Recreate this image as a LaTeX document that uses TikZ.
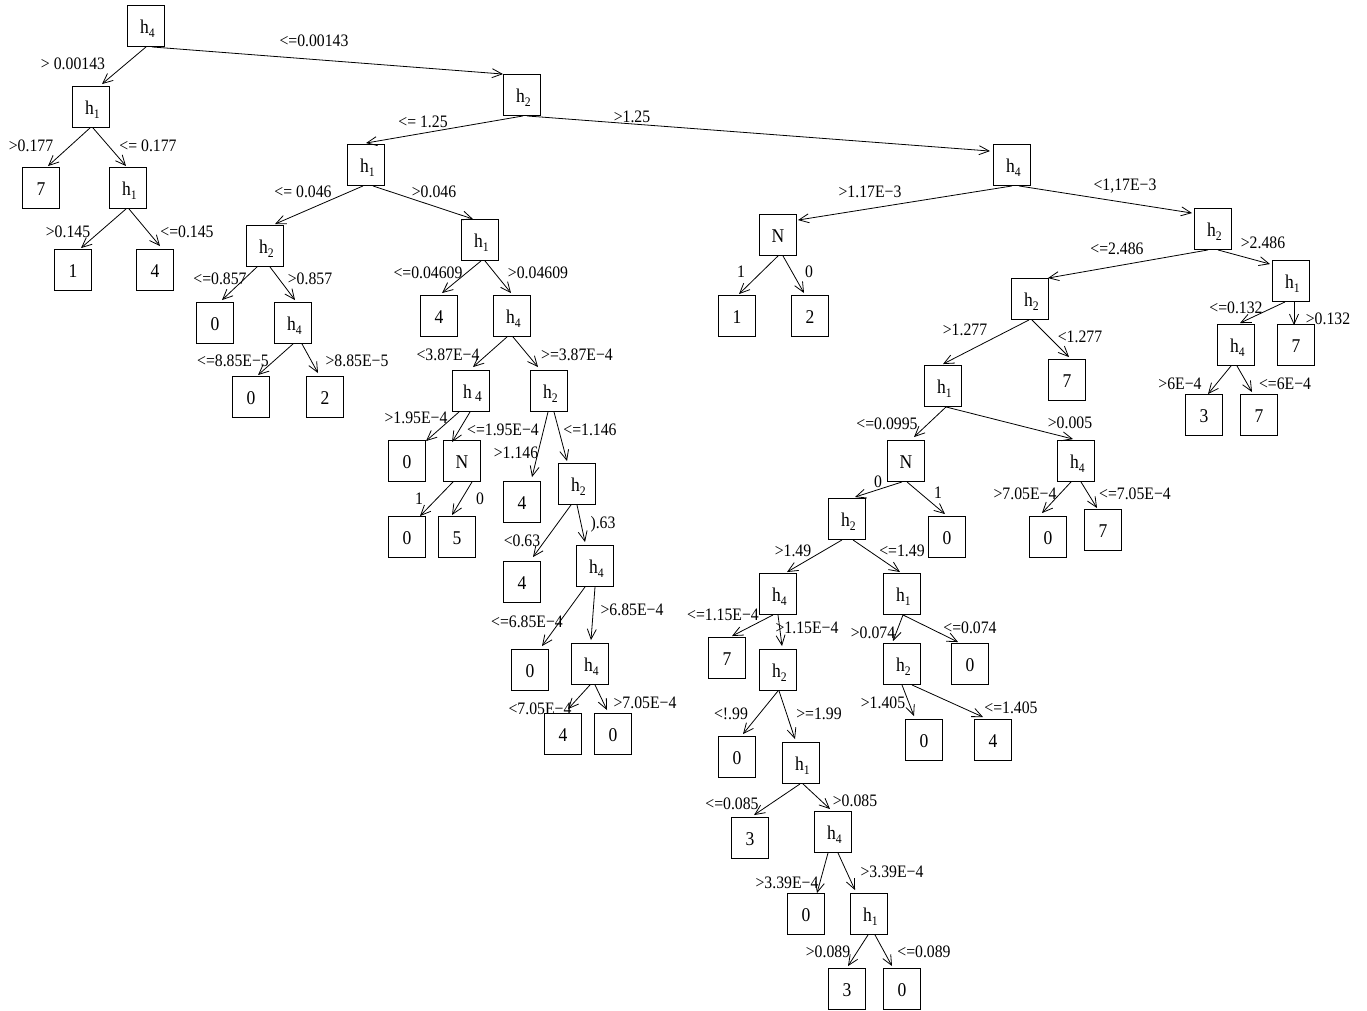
\documentclass[tikz,border=0pt]{standalone}
\usepackage{fontspec}
\setmainfont{Liberation Serif}[FakeStretch=0.9]
\usetikzlibrary{arrows.meta}

% box text: h with a lowered index
\newcommand{\hsub}[1]{\hspace{3pt}h\raisebox{-0.25em}{\fontsize{13}{13}\selectfont #1}}
% branch from a parent box to a child box (start shift, end shifts)
\newcommand{\branch}[5]{\draw[arr] ([xshift=#2pt]#1.south) -- ([xshift=#4pt,yshift=#5pt]#3.north);}

\tikzset{
  box/.style={draw, line width=0.9pt, minimum width=37pt, minimum height=41pt,
    inner sep=0pt, text height=14pt, text depth=0pt,
    font=\fontsize{19.5}{20}\selectfont},
  lbl/.style={inner sep=0pt, text height=12pt, text depth=0pt,
    font=\fontsize{17.5}{18}\selectfont},
  arr/.style={line width=0.8pt, -{Straight Barb[length=10pt,width=9pt,line width=0.8pt]}}
}

\begin{document}
\begin{tikzpicture}[x=1pt,y=-1pt]
\useasboundingbox (0,0) rectangle (1367,1010);

% ---- decision boxes and leaves ----
\node[box] (r)   at (146,26)  {\hsub{4}};
\node[box] (a)   at (91,107)  {\hsub{1}};
\node[box] (a7)  at (41,188)  {7};
\node[box] (b)   at (128,188) {\hsub{1}};
\node[box] (b1)  at (73,270)  {1};
\node[box] (b4)  at (155,270) {4};
\node[box] (c)   at (522,95)  {\hsub{2}};
\node[box] (d)   at (366,165) {\hsub{1}};
\node[box] (e)   at (265,246) {\hsub{2}};
\node[box] (e0)  at (215,323) {0};
\node[box] (f)   at (293,323) {\hsub{4}};
\node[box] (f0)  at (251,397) {0};
\node[box] (f2)  at (325,397) {2};
\node[box] (g)   at (480,240) {\hsub{1}};
\node[box] (g4)  at (439,316) {4};
\node[box] (hh)  at (512,316) {\hsub{4}};
\node[box] (i)   at (471,391) {\hspace{3pt}h\,\raisebox{-0.2em}{\fontsize{15}{15}\selectfont 4}};
\node[box] (j)   at (549,391) {\hsub{2}};
\node[box] (i0)  at (407,461) {0};
\node[box] (k)   at (462,461) {N};
\node[box] (k0)  at (407,537) {0};
\node[box] (k5)  at (457,537) {5};
\node[box] (j4)  at (522,502) {4};
\node[box] (l)   at (577,484) {\hsub{2}};
\node[box] (l4)  at (522,582) {4};
\node[box] (m)   at (595,566) {\hsub{4}};
\node[box] (m0)  at (530,670) {0};
\node[box] (o)   at (590,664) {\hsub{4}};
\node[box] (o4)  at (563,734) {4};
\node[box] (o0)  at (613,734) {0};
\node[box] (p)   at (1012,165) {\hsub{4}};
\node[box] (q)   at (778,235) {N};
\node[box] (q1)  at (737,316) {1};
\node[box] (q2)  at (810,316) {2};
\node[box] (s)   at (1213,229) {\hsub{2}};
\node[box] (t)   at (1030,299) {\hsub{2}};
\node[box] (u)   at (1291,281) {\hsub{1}};
\node[box] (v)   at (1236,345) {\hsub{4}};
\node[box] (u7)  at (1296,345) {7};
\node[box] (v3)  at (1204,415) {3};
\node[box] (v7)  at (1259,415) {7};
\node[box] (t7)  at (1067,380) {7};
\node[box] (w)   at (943,386) {\hsub{1}};
\node[box] (x)   at (906,461) {N};
\node[box] (y)   at (1076,461) {\hsub{4}};
\node[box] (z)   at (847,519) {\hsub{2}};
\node[box] (x0)  at (947,537) {0};
\node[box] (y0)  at (1048,537) {0};
\node[box] (y7)  at (1103,530) {7};
\node[box] (z1)  at (778,594) {\hsub{4}};
\node[box] (z2)  at (902,594) {\hsub{1}};
\node[box] (z17) at (727,658) {7};
\node[box] (ab)  at (778,670) {\hsub{2}};
\node[box] (ac)  at (902,664) {\hsub{2}};
\node[box] (z20) at (970,664) {0};
\node[box] (ab0) at (737,757) {0};
\node[box] (ad)  at (801,763) {\hsub{1}};
\node[box] (ac0) at (924,740) {0};
\node[box] (ac4) at (993,740) {4};
\node[box] (ad3) at (750,838) {3};
\node[box] (ae)  at (833,832) {\hsub{4}};
\node[box] (ae0) at (806,914) {0};
\node[box] (af)  at (869,914) {\hsub{1}};
\node[box] (af3) at (847,989) {3};
\node[box] (af0) at (902,989) {0};

% ---- branches ----
\branch{r}{0}{a}{11}{2}
\branch{r}{6}{c}{-19}{0}
\branch{a}{-1}{a7}{7}{1}
\branch{a}{2}{b}{-2}{1}
\branch{b}{-2}{b1}{8}{1}
\branch{b}{1}{b4}{5}{3}
\branch{c}{1}{d}{0}{1}
\branch{c}{5}{p}{-22}{-7}
\branch{d}{-3}{e}{10}{1}
\branch{d}{7}{g}{-7}{0}
\branch{e}{-8}{e0}{7}{2}
\branch{e}{5}{f}{2}{2}
\branch{f}{0}{f0}{7}{1}
\branch{f}{9}{f2}{-7}{3}
\branch{g}{1}{g4}{3}{2}
\branch{g}{5}{hh}{-1}{2}
\branch{hh}{-5}{i}{2}{3}
\branch{hh}{1}{j}{-11}{3}
\branch{i}{-12}{i0}{19}{-1}
\branch{i}{-1}{k}{-10}{-2}
\branch{k}{-9}{k0}{13}{0}
\branch{k}{10}{k5}{-5}{1}
\branch{j}{-1}{j4}{10}{4}
\branch{j}{5}{l}{-10}{2}
\branch{l}{-6}{l4}{11}{4}
\branch{l}{0}{m}{-10}{3}
\branch{m}{-10}{m0}{12}{3}
\branch{m}{0}{o}{1}{3}
\branch{o}{0}{o4}{5}{4}
\branch{o}{5}{o0}{-6}{3}
\branch{p}{0}{q}{20}{-6}
\branch{p}{7}{s}{-21}{-5}
\branch{q}{0}{q1}{2}{1}
\branch{q}{5}{q2}{-6}{2}
\branch{s}{-5}{t}{18}{0}
\branch{s}{5}{u}{-21}{-4}
\branch{t}{-1}{w}{0}{1}
\branch{t}{2}{t7}{2}{2}
\branch{u}{-6}{v}{4}{1}
\branch{u}{3}{u7}{-2}{-1}
\branch{v}{-5}{v3}{4}{0}
\branch{v}{1}{v7}{-7}{2}
\branch{w}{3}{x}{8}{3}
\branch{w}{3}{y}{-3}{1}
\branch{x}{-4}{z}{8}{1}
\branch{x}{1}{x0}{-2}{2}
\branch{y}{-5}{y0}{-6}{3}
\branch{y}{5}{y7}{-6}{1}
\branch{z}{-5}{z1}{9}{1}
\branch{z}{6}{z2}{-2}{1}
\branch{z1}{-5}{z17}{5}{1}
\branch{z1}{0}{ab}{4}{3}
\branch{z2}{1}{ac}{-9}{2}
\branch{z2}{1}{z20}{-12}{1}
\branch{ab}{0}{ab0}{6}{2}
\branch{ab}{1}{ad}{-6}{3}
\branch{ac}{0}{ac0}{-10}{3}
\branch{ac}{10}{ac4}{-10}{2}
\branch{ad}{-1}{ad3}{4}{2}
\branch{ad}{2}{ae}{-3}{2}
\branch{ae}{-5}{ae0}{11}{0}
\branch{ae}{5}{af}{-14}{3}
\branch{af}{-1}{af3}{1}{2}
\branch{af}{6}{af0}{-10}{2}

% ---- branch conditions ----
\node[lbl] (t01) at (73,63)   {> 0.00143};
\node[lbl] (t02) at (314,40)  {<=0.00143};
\node[lbl] (t03) at (31,145)  {>0.177};
\node[lbl] (t04) at (148,145) {<= 0.177};
\node[lbl] (t05) at (68,231)  {>0.145};
\node[lbl] (t06) at (187,231) {<=0.145};
\node[lbl] (t07) at (423,121) {<= 1.25};
\node[lbl] (t08) at (632,116) {>1.25};
\node[lbl] (t09) at (303,191) {<= 0.046};
\node[lbl] (t10) at (434,191) {>0.046};
\node[lbl] (t11) at (220,278) {<=0.857};
\node[lbl] (t12) at (310,278) {>0.857};
\node[lbl] (t13) at (428,272) {<=0.04609};
\node[lbl] (t14) at (538,272) {>0.04609};
\node[lbl] (t15) at (233,360) {<=8.85E−5};
\node[lbl] (t16) at (357,360) {>8.85E−5};
\node[lbl] (t17) at (448,354) {<3.87E−4};
\node[lbl] (t18) at (577,354) {>=3.87E−4};
\node[lbl] (t19) at (416,417) {>1.95E−4};
\node[lbl] (t20) at (503,429) {<=1.95E−4};
\node[lbl] (t21) at (590,429) {<=1.146};
\node[lbl] (t22) at (516,452) {>1.146};
\node[lbl] (t23) at (419,498) {1};
\node[lbl] (t24) at (480,498) {0};
\node[lbl] (t25) at (603,522) {).63};
\node[lbl] (t26) at (522,540) {<0.63};
\node[lbl] (t27) at (527,621) {<=6.85E−4};
\node[lbl] (t28) at (632,609) {>6.85E−4};
\node[lbl] (t29) at (540,708) {<7.05E−4};
\node[lbl] (t30) at (645,702) {>7.05E−4};
\node[lbl] (t31) at (870,191) {>1.17E−3};
\node[lbl] (t32) at (1125,184) {<1,17E−3};
\node[lbl] (t33) at (741,271) {1};
\node[lbl] (t34) at (809,271) {0};
\node[lbl] (t35) at (1117,248) {<=2.486};
\node[lbl] (t36) at (1263,242) {>2.486};
\node[lbl] (t37) at (965,329) {>1.277};
\node[lbl] (t38) at (1080,336) {<1.277};
\node[lbl] (t39) at (1236,307) {<=0.132};
\node[lbl] (t40) at (1328,318) {>0.132};
\node[lbl] (t41) at (1180,383) {>6E−4};
\node[lbl] (t42) at (1285,383) {<=6E−4};
\node[lbl] (t43) at (887,423) {<=0.0995};
\node[lbl] (t44) at (1070,422) {>0.005};
\node[lbl] (t45) at (878,481) {0};
\node[lbl] (t46) at (938,492) {1};
\node[lbl] (t47) at (1025,493) {>7.05E−4};
\node[lbl] (t48) at (1135,493) {<=7.05E−4};
\node[lbl] (t49) at (793,550) {>1.49};
\node[lbl] (t50) at (902,550) {<=1.49};
\node[lbl] (t51) at (723,614) {<=1.15E−4};
\node[lbl] (t52) at (807,627) {>1.15E−4};
\node[lbl] (t53) at (873,632) {>0.074};
\node[lbl] (t54) at (970,627) {<=0.074};
\node[lbl] (t55) at (731,713) {<!.99};
\node[lbl] (t56) at (819,713) {>=1.99};
\node[lbl] (t57) at (883,702) {>1.405};
\node[lbl] (t58) at (1011,707) {<=1.405};
\node[lbl] (t59) at (732,803) {<=0.085};
\node[lbl] (t60) at (855,800) {>0.085};
\node[lbl] (t61) at (787,882) {>3.39E−4};
\node[lbl] (t62) at (892,871) {>3.39E−4};
\node[lbl] (t63) at (828,951) {>0.089};
\node[lbl] (t64) at (924,951) {<=0.089};
\end{tikzpicture}
\end{document}
